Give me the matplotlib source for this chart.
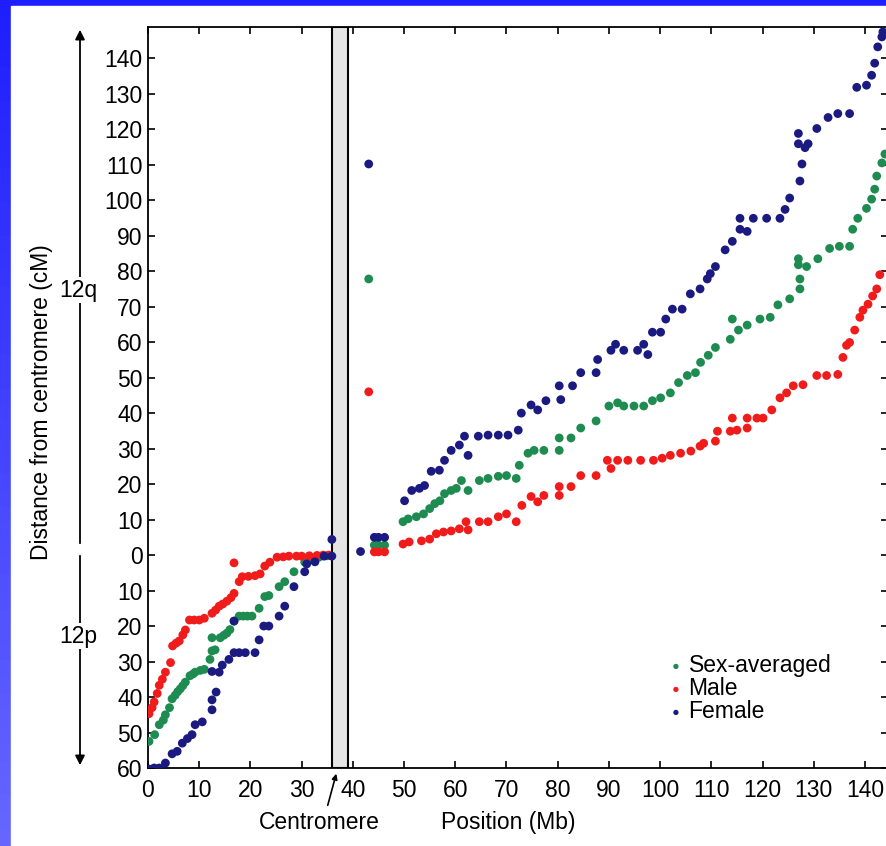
import numpy as np
import matplotlib
matplotlib.use('Agg')
import matplotlib.pyplot as plt
from matplotlib.patches import Rectangle, FancyArrowPatch

plt.rcParams['font.family'] = ['Liberation Sans', 'DejaVu Sans']

# p arm is stored as negative cM so it sits below the centromere line
sex_x = [0.2, 1.3, 2.2, 3.0, 3.4, 4.2, 4.7, 5.3, 5.8, 6.3, 6.8, 7.3, 8.2, 8.8, 9.2, 10.2, 11.0,
         12.1, 12.5, 13.1, 12.5, 14.1, 14.8, 15.4, 16.0, 16.8, 17.8, 18.6, 19.4, 20.3, 21.7,
         22.8, 23.6, 25.6, 26.7, 28.5, 30.6, 32.0, 33.4, 35.0,
         43.1, 44.2, 45.0, 46.2,
         49.8, 50.8, 52.4, 53.8, 55.0, 56.0, 57.0, 57.9, 59.2, 60.2, 61.2, 62.5, 64.7, 66.4, 68.4,
         70.0, 71.9, 72.5, 74.2, 75.4, 77.3, 80.3, 80.3, 82.6, 84.5, 87.5, 90.0, 91.7, 92.9, 94.9,
         96.8, 98.5, 100.1, 102.0, 103.6, 105.3, 106.9, 107.9, 109.4, 110.8, 113.7, 114.1, 115.3,
         117.0, 119.5, 121.5, 123.0, 125.3, 127.3, 127.3, 127.0, 127.0, 128.6, 130.8, 133.1, 135.0,
         137.0, 137.6, 138.6, 140.3, 141.3, 141.9, 142.3, 143.3, 143.9]
sex_y = [-52.5, -50.6, -47.8, -46.5, -45.0, -43.0, -40.5, -39.5, -38.5, -37.7, -36.8, -35.8, -34.0,
         -33.5, -33.0, -32.5, -32.2, -29.4, -27.0, -26.7, -23.3, -23.3, -22.6, -22.0, -21.0, -18.6,
         -17.2, -17.2, -17.2, -17.2, -15.0, -11.7, -11.4, -8.9, -7.5, -4.7, -2.0, -1.2, -0.6, -0.2,
         77.8, 2.8, 2.8, 2.8,
         9.4, 10.2, 10.8, 11.6, 13.1, 14.5, 15.3, 17.3, 18.2, 18.8, 21.0, 18.2, 21.0, 21.6, 22.2,
         22.4, 21.6, 25.3, 28.7, 29.5, 29.5, 29.5, 33.0, 33.0, 35.8, 37.8, 42.0, 42.9, 42.0, 42.0,
         42.0, 43.5, 44.3, 45.7, 48.6, 50.6, 51.4, 54.3, 56.3, 58.5, 60.8, 66.5, 63.4,
         64.8, 66.5, 67.0, 70.5, 72.2, 75.0, 77.8, 81.8, 83.5, 81.3, 83.5, 86.4, 87.0,
         87.0, 91.8, 94.9, 97.7, 100.3, 103.1, 106.8, 110.5, 113.0]

male_x = [0.2, 0.8, 1.2, 1.8, 2.2, 2.8, 3.4, 4.4, 4.8, 5.5, 6.1, 6.8, 7.3, 8.1, 9.0, 10.0, 11.0,
          12.5, 13.2, 13.9, 14.6, 15.4, 16.2, 16.8, 17.8, 18.4, 19.6, 20.9, 21.9, 22.8, 23.8,
          25.2, 26.4, 27.5, 29.0, 30.0, 31.5, 33.0, 34.2, 35.3, 16.8,
          43.1, 44.2, 45.0, 46.2,
          49.8, 51.0, 53.4, 55.0, 56.3, 57.7, 59.2, 60.8, 62.1, 62.5, 64.7, 66.4, 68.4, 70.0, 71.9,
          73.0, 74.8, 76.1, 77.3, 80.3, 80.3, 82.6, 84.5, 87.5, 89.7, 90.4, 91.7, 93.7, 96.2, 98.7,
          100.4, 102.0, 104.0, 106.0, 107.8, 108.5, 110.8, 111.2, 113.7, 115.0, 117.0, 114.1, 117.0,
          118.9, 120.1, 121.8, 123.4, 124.7, 126.0, 127.9, 130.6, 132.5, 134.7, 135.7, 136.4, 137.0,
          138.0, 139.0, 139.6, 140.6, 141.5, 142.3, 142.9]
male_y = [-44.7, -43.0, -41.4, -39.0, -36.7, -35.0, -33.0, -30.3, -25.6, -24.8, -24.2, -22.5, -21.1,
          -18.3, -18.3, -18.3, -17.8, -16.4, -15.5, -14.4, -13.8, -13.0, -12.0, -10.8, -7.5, -6.1,
          -6.0, -5.8, -5.3, -3.1, -2.0, -0.6, -0.5, -0.3, -0.3, -0.3, -0.2, -0.1, 0.0, 0.0, -2.2,
          46.0, 0.9, 0.9, 0.9,
          3.1, 3.7, 4.0, 4.5, 6.0, 6.5, 6.8, 7.4, 9.4, 7.1, 9.4, 9.4, 10.8, 11.6, 9.4,
          14.0, 16.5, 15.0, 16.8, 16.8, 19.3, 19.3, 22.4, 22.4, 26.7, 24.4, 26.7, 26.7, 26.7, 26.7,
          27.3, 28.1, 28.7, 29.3, 30.7, 31.5, 32.1, 34.9, 34.9, 35.2, 35.8, 38.6, 38.6,
          38.6, 38.6, 40.9, 44.3, 45.7, 47.7, 48.0, 50.6, 50.6, 50.9, 55.7, 59.1, 59.9,
          63.4, 67.0, 69.0, 70.7, 73.0, 75.0, 79.0]

female_x = [0.2, 1.2, 2.2, 3.4, 4.7, 5.7, 6.7, 7.7, 8.6, 9.2, 10.6, 12.5, 12.5, 13.3, 12.5, 13.9,
            14.5, 15.8, 16.8, 17.8, 19.0, 20.9, 16.8, 21.7, 22.6, 23.6, 25.6, 26.7, 28.5, 30.6,
            31.0, 32.6, 34.4, 35.9, 35.9,
            41.5, 43.1, 44.2, 45.0, 46.2,
            50.1, 51.5, 53.0, 54.0, 55.3, 56.9, 57.9, 59.2, 60.8, 61.8, 62.5, 64.5, 66.4, 68.4, 70.3,
            72.3, 72.9, 74.8, 76.1, 77.7, 80.3, 80.6, 82.9, 84.5, 87.5, 87.8, 90.4, 91.3, 92.9, 95.6,
            96.8, 97.6, 98.5, 100.1, 101.1, 102.4, 104.3, 105.9, 107.8, 109.2, 109.8, 110.8, 112.7,
            114.1, 115.6, 117.0, 115.6, 118.2, 120.8, 123.4, 124.4, 125.3, 127.3, 127.7, 127.0,
            128.3, 127.0, 128.9, 130.6, 132.8, 134.7, 137.0, 138.4, 140.3, 141.3, 141.9, 142.5,
            143.3, 143.5]
female_y = [-60.3, -60.0, -60.0, -58.6, -56.0, -55.3, -53.0, -51.7, -50.6, -47.8, -47.0, -43.6,
            -40.8, -38.6, -32.8, -33.0, -31.0, -29.4, -27.5, -27.5, -27.5, -27.5, -18.6, -23.9,
            -20.0, -20.0, -17.2, -14.4, -8.9, -4.7, -2.5, -1.9, -0.3, -0.3, 4.4,
            1.0, 110.2, 5.0, 5.0, 5.0,
            15.3, 18.2, 18.8, 19.6, 23.6, 23.9, 26.7, 29.5, 31.0, 33.5, 28.1, 33.5, 33.8, 33.8, 33.8,
            35.2, 40.0, 42.3, 40.9, 43.5, 47.7, 43.8, 47.7, 51.4, 51.4, 55.1, 57.7, 59.4, 57.7, 57.7,
            59.4, 56.5, 62.8, 62.8, 66.5, 69.3, 69.3, 73.6, 75.0, 77.8, 79.3, 81.3, 86.0,
            88.4, 91.8, 91.2, 94.9, 94.9, 94.9, 94.9, 97.4, 100.6, 105.4, 110.2, 115.9,
            114.8, 118.8, 115.9, 120.2, 123.3, 124.4, 124.4, 131.8, 132.4, 135.2, 138.6, 143.2,
            146.0, 147.4]

series = ['Sex-averaged', 'Male', 'Female']
colors = ['#1e8c50', '#f01c1c', '#1a1a80']
centromere = (36.0, 39.1)

W, H = 886, 846
fig = plt.figure(figsize=(W / 100, H / 100), dpi=100)

# blue frame behind the white page
bg = fig.add_axes([0, 0, 1, 1], zorder=-5)
grad = np.zeros((50, 1, 3))
grad[:, 0, 0] = np.linspace(0.12, 0.40, 50)
grad[:, 0, 1] = np.linspace(0.12, 0.40, 50)
grad[:, 0, 2] = 1.0
bg.imshow(grad, aspect='auto', extent=[0, 1, 0, 1], origin='upper')
bg.add_patch(Rectangle((11 / W, 0), 1, 1 - 6 / H, color='white'))
bg.set_xlim(0, 1)
bg.set_ylim(0, 1)
bg.axis('off')

ax = fig.add_axes([148 / W, 1 - 768 / H, 740 / W, 741 / H])
for xs, ys, c, lab in zip([sex_x, male_x, female_x], [sex_y, male_y, female_y], colors, series):
    ax.scatter(xs, ys, s=40, color=c, edgecolors='none', label=lab, zorder=3)

ax.axvspan(centromere[0], centromere[1], facecolor='#e4e4e4', edgecolor='black', lw=1.5, zorder=2)

ax.set_xlim(0, 144.5)
ax.set_ylim(-60, 148.8)
ax.set_xticks(np.arange(0, 141, 10))
yt = np.arange(-60, 141, 10)
ax.set_yticks(yt)
ax.set_yticklabels([str(abs(v)) for v in yt])
ax.tick_params(direction='in', top=True, right=True, length=5, width=1.2, labelsize=16.5)
ax.tick_params(axis='x', pad=8)
ax.tick_params(axis='y', pad=4)
for sp in ax.spines.values():
    sp.set_linewidth(1.3)

leg = ax.legend(loc='upper left', bbox_to_anchor=(653 / W, 1 - 643 / H), bbox_transform=fig.transFigure,
                frameon=False, fontsize=16.5, handletextpad=0.05, labelspacing=0.0, borderpad=0,
                handlelength=1.0, markerscale=0.6)

fig.text(42 / W, 1 - 402 / H, 'Distance from centromere (cM)', rotation=90, ha='center', va='center',
         fontsize=16.5)
fig.text(319 / W, 1 - 822 / H, 'Centromere', ha='center', va='center', fontsize=16.5)
fig.text(508 / W, 1 - 822 / H, 'Position (Mb)', ha='center', va='center', fontsize=16.5)
fig.add_artist(FancyArrowPatch((327 / W, 1 - 808 / H), (337 / W, 1 - 771 / H),
                               transform=fig.transFigure, arrowstyle='-|>',
                               mutation_scale=8, lw=1.2, color='black'))

# arm brackets on the left
for (y0, y1) in [(546, 27), (553, 768)]:
    fig.add_artist(FancyArrowPatch((80 / W, 1 - y0 / H), (80 / W, 1 - y1 / H),
                                   transform=fig.transFigure, arrowstyle='-|>',
                                   mutation_scale=14, lw=1.3, color='black'))
for lab, yp in [('12q', 290), ('12p', 636)]:
    fig.text(78 / W, 1 - yp / H, lab, ha='center', va='center', fontsize=16.5,
             bbox=dict(facecolor='white', edgecolor='none', pad=1))

plt.savefig('out.png', dpi=100)
